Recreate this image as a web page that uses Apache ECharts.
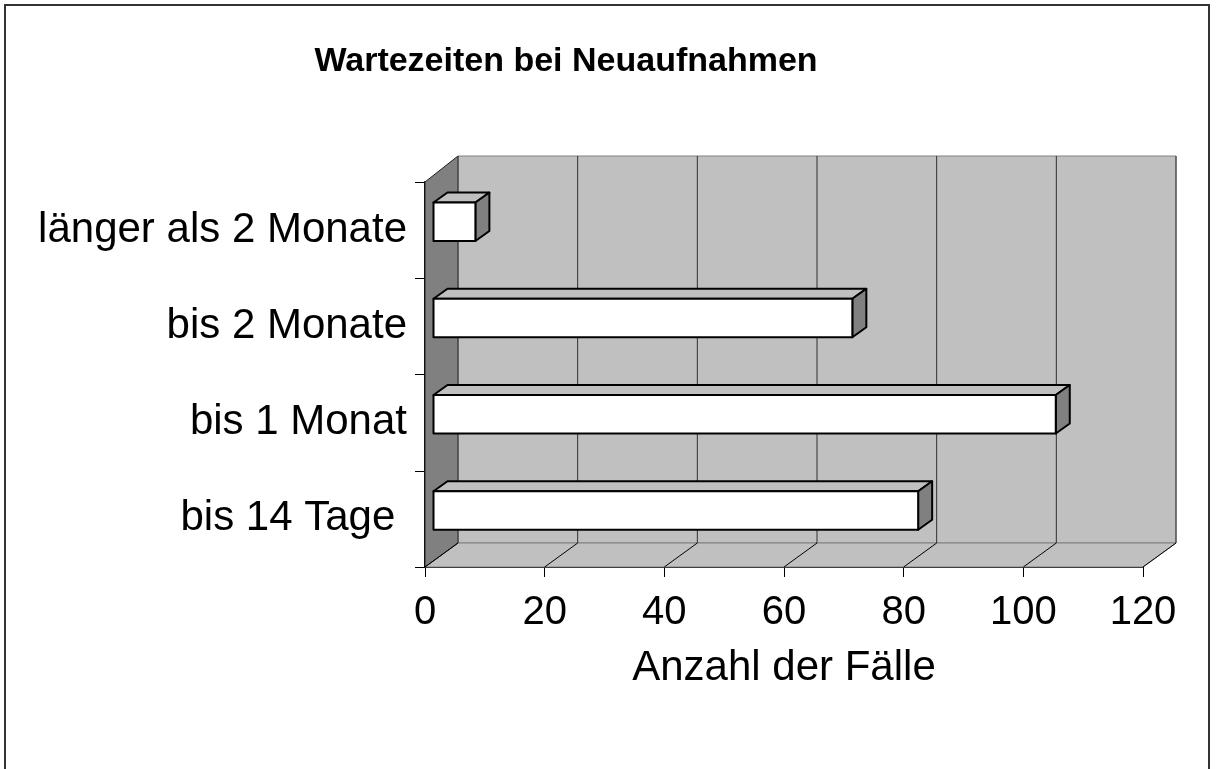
<!DOCTYPE html>
<html>
<head>
<meta charset="utf-8">
<script src="https://cdn.jsdelivr.net/npm/echarts@6/dist/echarts.min.js"></script>
<style>
html,body{margin:0;padding:0;background:#fff;}
#c{width:1216px;height:769px;}
</style>
</head>
<body>
<div id="c"></div>
<script>
var titleText = 'Wartezeiten bei Neuaufnahmen';
var categories = ['bis 14 Tage ', 'bis 1 Monat', 'bis 2 Monate', 'länger als 2 Monate'];
var values = [81, 104, 70, 7];
var xMin = 0, xMax = 120, xStep = 20;
var xAxisName = 'Anzahl der Fälle';

var FONT = '"Liberation Sans", Arial, sans-serif';
var DX = 33, DYT = -26, DYB = -24;      // wall depth
var BDX = 14, BDY = -10;                // bar depth
var BOX = 8.5, BOY = -8.4;              // bar front face offset

var tickVals = [];
for (var t = xMin; t <= xMax; t += xStep) tickVals.push(t);

var chart = echarts.init(document.getElementById('c'), null, {renderer: 'canvas'});

function wallsRender(params, api) {
  var cs = params.coordSys;
  var x = cs.x, y = cs.y, w = cs.width, h = cs.height;
  var children = [];
  // back wall
  children.push({type: 'polygon', shape: {points: [
    [x + DX, y + DYT], [x + w + DX, y + DYT], [x + w + DX, y + h + DYB], [x + DX, y + h + DYB]
  ]}, style: {fill: '#c0c0c0', stroke: '#808080', lineWidth: 1}});
  // floor
  children.push({type: 'polygon', shape: {points: [
    [x, y + h], [x + w, y + h], [x + w + DX, y + h + DYB], [x + DX, y + h + DYB]
  ]}, style: {fill: '#c0c0c0', stroke: '#808080', lineWidth: 1}});
  // side wall
  children.push({type: 'polygon', shape: {points: [
    [x, y], [x + DX, y + DYT], [x + DX, y + h + DYB], [x, y + h]
  ]}, style: {fill: '#808080', stroke: '#202020', lineWidth: 1}});
  // gridlines
  for (var i = 0; i < tickVals.length; i++) {
    var px = api.coord([tickVals[i], 0])[0];
    if (i > 0) {
      children.push({type: 'line', shape: {x1: px + DX, y1: y + DYT, x2: px + DX, y2: y + h + DYB},
        style: {stroke: '#303030', lineWidth: 1}});
    }
    children.push({type: 'line', shape: {x1: px, y1: y + h, x2: px + DX, y2: y + h + DYB},
      style: {stroke: '#000', lineWidth: 1}});
  }
  return {type: 'group', children: children};
}

function barRender(params, api) {
  var idx = api.value(0);
  var val = api.value(1);
  var p0 = api.coord([0, idx]);
  var p1 = api.coord([val, idx]);
  var band = api.size([0, 1])[1];
  var bh = band * 0.4;
  var cy = p0[1] + BOY;
  var x0 = p0[0] + BOX, x1 = p1[0] + BOX;
  var top = cy - bh / 2, bot = cy + bh / 2;
  var st = {stroke: '#000', lineWidth: 2, lineJoin: 'round'};
  return {type: 'group', children: [
    {type: 'polygon', shape: {points: [[x0, top], [x1, top], [x1 + BDX, top + BDY], [x0 + BDX, top + BDY]]},
      style: Object.assign({fill: '#c0c0c0'}, st)},
    {type: 'polygon', shape: {points: [[x1, top], [x1 + BDX, top + BDY], [x1 + BDX, bot + BDY], [x1, bot]]},
      style: Object.assign({fill: '#808080'}, st)},
    {type: 'rect', shape: {x: x0, y: top, width: x1 - x0, height: bh},
      style: Object.assign({fill: '#ffffff'}, st)}
  ]};
}

var barData = values.map(function (v, i) { return [i, v]; });

chart.setOption({
  animation: false,
  backgroundColor: '#fff',
  title: {
    text: titleText,
    left: 561, top: 40, textAlign: 'center',
    textStyle: {fontFamily: FONT, fontSize: 34, fontWeight: 'bold', color: '#000', lineHeight: 34}
  },
  graphic: [{
    type: 'rect', silent: true, z: -10,
    shape: {x: 5, y: 5, width: 1204, height: 800},
    style: {fill: 'none', stroke: '#333', lineWidth: 2}
  }],
  grid: {left: 425, right: 73, top: 182, bottom: 202, containLabel: false},
  xAxis: {
    type: 'value', min: xMin, max: xMax, interval: xStep,
    name: xAxisName, nameLocation: 'middle', nameGap: 80,
    nameTextStyle: {fontFamily: FONT, fontSize: 42, color: '#000', lineHeight: 42},
    axisLine: {show: true, lineStyle: {color: '#000', width: 2}},
    axisTick: {show: true, length: 10, lineStyle: {color: '#000', width: 1}},
    axisLabel: {fontFamily: FONT, fontSize: 40, color: '#000', margin: 26, lineHeight: 40},
    splitLine: {show: false}
  },
  yAxis: {
    type: 'category', data: categories,
    axisLine: {show: true, lineStyle: {color: '#000', width: 2}},
    axisTick: {show: true, length: 10, alignWithLabel: false, lineStyle: {color: '#000', width: 1}},
    axisLabel: {fontFamily: FONT, fontSize: 42, color: '#000', margin: 18},
    splitLine: {show: false}
  },
  series: [
    {type: 'custom', renderItem: wallsRender, data: [[0, 0]], clip: false, z: 1, silent: true},
    {type: 'custom', renderItem: barRender, data: barData, encode: {x: 1, y: 0}, clip: false, z: 3, silent: true}
  ]
});
</script>
</body>
</html>
